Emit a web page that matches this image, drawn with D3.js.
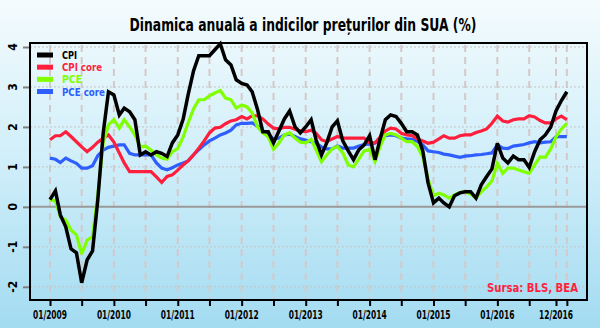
<!DOCTYPE html>
<html><head><meta charset="utf-8">
<script src="https://cdn.jsdelivr.net/npm/d3@7"></script>
<style>html,body{margin:0;padding:0;overflow:hidden;background:#fff}</style>
</head><body>
<svg id="chart" width="600" height="328"></svg>
<script>
const seriesNames = ["CPI", "CPI core", "PCE", "PCE core"];
const seriesColors = ["#000000", "#ff1f3d", "#7fff00", "#2f5eff"];
const startMonth = new Date(2009, 0, 1);
const cpi = [0.18,0.4,-0.2,-0.5,-1.05,-1.15,-1.9,-1.33,-1.1,0.17,1.85,2.88,2.8,2.3,2.47,2.38,2.18,1.3,1.38,1.3,1.38,1.34,1.26,1.6,1.8,2.2,2.8,3.4,3.78,3.78,3.78,3.93,4.08,3.68,3.55,3.18,3.09,3.05,2.88,2.43,1.88,1.88,1.6,1.9,2.2,2.4,2.0,1.85,2.0,2.18,1.68,1.3,1.6,2.0,2.15,1.65,1.4,1.18,1.43,1.55,1.78,1.18,1.68,2.18,2.3,2.26,2.09,1.88,1.88,1.8,1.4,0.6,0.1,0.22,0.1,0.0,0.28,0.35,0.38,0.38,0.22,0.55,0.76,0.95,1.59,1.22,1.1,1.27,1.18,1.18,0.99,1.38,1.68,1.8,2.0,2.4,2.66,2.88];
const cpiCore = [1.68,1.78,1.78,1.88,1.76,1.63,1.5,1.38,1.49,1.62,1.72,1.8,1.62,1.35,1.1,0.88,0.88,0.88,0.88,0.88,0.75,0.61,0.76,0.8,0.92,1.05,1.15,1.3,1.47,1.65,1.85,1.97,1.99,2.08,2.15,2.18,2.26,2.2,2.28,2.28,2.2,2.07,1.97,1.95,1.99,1.99,1.94,1.9,1.88,1.92,1.84,1.68,1.63,1.7,1.76,1.72,1.72,1.72,1.72,1.72,1.6,1.6,1.74,1.9,1.97,1.95,1.84,1.8,1.78,1.7,1.65,1.59,1.62,1.7,1.78,1.72,1.72,1.78,1.8,1.8,1.86,1.9,1.95,2.09,2.27,2.15,2.12,2.18,2.2,2.2,2.28,2.25,2.16,2.1,2.1,2.2,2.27,2.18];
const pce = [0.18,0.15,-0.25,-0.33,-0.58,-0.7,-1.18,-0.83,-0.75,0.3,1.6,2.05,2.18,1.97,2.18,2.0,1.8,1.5,1.52,1.42,1.3,1.22,1.19,1.38,1.46,1.75,2.1,2.45,2.68,2.68,2.78,2.85,2.91,2.72,2.68,2.47,2.55,2.5,2.35,2.0,1.85,1.75,1.44,1.6,1.8,1.85,1.72,1.62,1.6,1.69,1.43,1.13,1.3,1.45,1.51,1.35,1.05,1.0,1.2,1.4,1.43,1.13,1.5,1.8,1.84,1.8,1.72,1.63,1.63,1.51,1.25,0.7,0.28,0.34,0.3,0.22,0.3,0.36,0.38,0.32,0.22,0.38,0.5,0.65,1.09,0.84,0.97,0.97,0.92,0.88,0.84,1.05,1.25,1.24,1.45,1.75,1.95,2.09];
const pceCore = [1.22,1.19,1.11,1.22,1.15,1.09,0.97,0.97,1.03,1.28,1.42,1.49,1.52,1.55,1.55,1.34,1.3,1.3,1.3,1.3,1.1,0.97,0.93,0.98,1.05,1.1,1.15,1.3,1.43,1.55,1.65,1.72,1.8,1.85,1.92,2.05,2.09,2.09,2.1,2.02,1.9,1.82,1.7,1.72,1.8,1.82,1.76,1.7,1.67,1.63,1.59,1.5,1.45,1.45,1.52,1.47,1.47,1.47,1.52,1.56,1.57,1.6,1.66,1.78,1.8,1.78,1.72,1.7,1.69,1.64,1.55,1.4,1.38,1.36,1.32,1.3,1.27,1.24,1.27,1.28,1.3,1.31,1.33,1.35,1.55,1.47,1.46,1.52,1.54,1.56,1.6,1.63,1.6,1.62,1.63,1.75,1.76,1.76];
const xTickLabels = ["01/2009","01/2010","01/2011","01/2012","01/2013","01/2014","01/2015","01/2016","12/2016"];
const yTickLabels = [4,3,2,1,0,-1,-2];
const titleText = "Dinamica anuală a indicilor prețurilor din SUA (%)";
const sourceText = "Sursa: BLS, BEA";

const svg = d3.select("#chart");
const W = 600, H = 328;
const frame = {l:30, r:587, t:43, b:300};
const FONT = "'Liberation Sans Narrow','DejaVu Sans Condensed',sans-serif";
const parseTick = d3.timeParse("%m/%Y");
const months = d3.timeMonth.range(startMonth, d3.timeMonth.offset(startMonth, cpi.length));

const x = d3.scaleTime().domain([new Date(2009,0,1), new Date(2016,11,1)]).range([50, 556]);
const y = d3.scaleLinear().domain([-2.33, 4.1]).range([frame.b, frame.t]);

// background gradient
const defs = svg.append("defs");
const grad = defs.append("linearGradient").attr("id","bg").attr("x1",0).attr("y1",0).attr("x2",0).attr("y2",1);
grad.append("stop").attr("offset","0%").attr("stop-color","#f4fbfd");
grad.append("stop").attr("offset","50%").attr("stop-color","#cfeef9");
grad.append("stop").attr("offset","100%").attr("stop-color","#a3dbf1");
svg.append("rect").attr("width",W).attr("height",H).attr("fill","url(#bg)");

// title
svg.append("text").attr("x",303).attr("y",31).attr("text-anchor","middle")
  .attr("font-family",FONT).attr("font-weight","bold").attr("font-size",17)
  .attr("textLength",347).attr("lengthAdjust","spacingAndGlyphs")
  .attr("fill","#000").text(titleText);

// vertical gridlines every 6 months + end markers
const vGrid = d3.timeMonth.every(6).range(new Date(2009,0,1), new Date(2016,7,1));
vGrid.push(new Date(2016,11,1), new Date(2017,1,1));
svg.append("g").selectAll("line").data(vGrid).join("line")
  .attr("x1",d=>x(d)).attr("x2",d=>x(d)).attr("y1",frame.t+2).attr("y2",frame.b)
  .attr("stroke","#d4c9c9").attr("stroke-width",2).attr("stroke-dasharray","7,5");

// horizontal gridlines
svg.append("g").selectAll("line").data(yTickLabels.filter(v=>v!==0)).join("line")
  .attr("x1",frame.l).attr("x2",frame.r).attr("y1",d=>y(d)).attr("y2",d=>y(d))
  .attr("stroke","#c4c4c4").attr("stroke-width",1).attr("stroke-dasharray","2,2");
svg.append("line").attr("x1",frame.l).attr("x2",frame.r).attr("y1",y(0)).attr("y2",y(0))
  .attr("stroke","#9a9a9a").attr("stroke-width",2);

// x axis ticks
const xAxis = d3.axisBottom(x).tickValues(vGrid).tickSize(6).tickFormat("");
const gx = svg.append("g").attr("transform",`translate(0,${frame.b})`).call(xAxis);
gx.select(".domain").remove();
gx.selectAll(".tick line").attr("stroke","#000").attr("stroke-width",2);
svg.append("g").selectAll("text").data(xTickLabels).join("text")
  .attr("x",d=>x(parseTick(d))).attr("y",319).attr("text-anchor","middle")
  .attr("font-family",FONT).attr("font-weight","bold").attr("font-size",11.5)
  .attr("textLength",34).attr("lengthAdjust","spacingAndGlyphs")
  .attr("fill","#000").text(d=>d);

// y axis ticks and labels
const yAxis = d3.axisLeft(y).tickValues(yTickLabels).tickSize(7).tickFormat("");
const gy = svg.append("g").attr("transform",`translate(${frame.l},0)`).call(yAxis);
gy.select(".domain").remove();
gy.selectAll(".tick line").attr("stroke","#808080").attr("stroke-width",2);
svg.append("g").selectAll("text").data(yTickLabels).join("text")
  .attr("transform",d=>`translate(17,${y(d)}) rotate(-90)`).attr("text-anchor","middle")
  .attr("font-family",FONT).attr("font-weight","bold").attr("font-size",12).attr("fill","#000").text(d=>d);

// series lines
const seriesData = [cpi, cpiCore, pce, pceCore];
const line = d3.line().x((d,i)=>x(months[i])).y(d=>y(d));
const drawOrder = [3,1,2,0];
svg.append("g").selectAll("path").data(drawOrder).join("path")
  .attr("d",k=>line(seriesData[k])).attr("fill","none")
  .attr("stroke",k=>seriesColors[k]).attr("stroke-width",k=>k===0?3.5:3.2)
  .attr("stroke-linejoin","miter").attr("stroke-miterlimit",3);

// frame
svg.append("rect").attr("x",frame.l).attr("y",frame.t).attr("width",frame.r-frame.l).attr("height",frame.b-frame.t)
  .attr("fill","none").attr("stroke","#000").attr("stroke-width",2);

// legend
const legWidths = [15, 40, 20, 43];
const leg = svg.append("g");
const legY = d3.scalePoint().domain(seriesNames).range([55, 91.5]);
leg.selectAll("line").data(seriesNames).join("line")
  .attr("x1",37).attr("x2",53).attr("y1",d=>legY(d)).attr("y2",d=>legY(d))
  .attr("stroke",(d,i)=>seriesColors[i]).attr("stroke-width",5);
leg.selectAll("text").data(seriesNames).join("text")
  .attr("x",62).attr("y",d=>legY(d)+4)
  .attr("font-family",FONT).attr("font-weight","bold").attr("font-size",11)
  .attr("textLength",(d,i)=>legWidths[i]).attr("lengthAdjust","spacingAndGlyphs")
  .attr("fill",(d,i)=>seriesColors[i]).text(d=>d);

// source
svg.append("text").attr("x",578).attr("y",292).attr("text-anchor","end")
  .attr("font-family",FONT).attr("font-weight","bold").attr("font-size",13)
  .attr("textLength",91).attr("lengthAdjust","spacingAndGlyphs")
  .attr("fill","#ff1f3d").text(sourceText);
</script>
</body></html>
